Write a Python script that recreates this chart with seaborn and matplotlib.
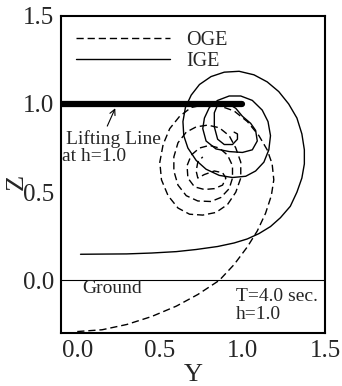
import matplotlib
matplotlib.use("Agg")
import matplotlib.pyplot as plt
from matplotlib.ticker import MultipleLocator
import seaborn as sns
import pandas as pd

# ---- data ----
oge_y = [0.0, 0.15, 0.30, 0.45, 0.60, 0.73, 0.86, 0.95, 1.03, 1.09, 1.14, 1.175, 1.19, 1.18,
         1.15, 1.10, 1.03, 0.95, 0.86, 0.77, 0.69, 0.62, 0.56, 0.52, 0.50, 0.51, 0.55, 0.61,
         0.68, 0.76, 0.84, 0.91, 0.96, 0.99, 0.99, 0.96, 0.92, 0.86, 0.79, 0.72, 0.66, 0.61,
         0.585, 0.585, 0.61, 0.66, 0.73, 0.81, 0.87, 0.92, 0.94, 0.94, 0.91, 0.86, 0.80, 0.74,
         0.69, 0.665, 0.67, 0.71, 0.77, 0.83, 0.88, 0.90, 0.88, 0.83, 0.77, 0.73, 0.72, 0.73, 0.76]
oge_z = [-0.29, -0.28, -0.25, -0.205, -0.146, -0.08, 0.0, 0.09, 0.19, 0.28, 0.38, 0.48, 0.57, 0.66,
         0.74, 0.82, 0.90, 0.96, 0.99, 0.995, 0.98, 0.93, 0.86, 0.77, 0.67, 0.57, 0.48, 0.41,
         0.375, 0.37, 0.385, 0.43, 0.50, 0.58, 0.67, 0.75, 0.82, 0.865, 0.88, 0.87, 0.84, 0.78,
         0.70, 0.62, 0.54, 0.48, 0.45, 0.447, 0.47, 0.52, 0.58, 0.65, 0.71, 0.75, 0.765, 0.75,
         0.71, 0.65, 0.58, 0.53, 0.515, 0.52, 0.54, 0.58, 0.61, 0.62, 0.60, 0.58, 0.62, 0.67, 0.70]

ige_y = [0.02, 0.15, 0.30, 0.45, 0.60, 0.72, 0.85, 0.95, 1.03, 1.10, 1.17, 1.23, 1.29, 1.33,
         1.36, 1.375, 1.375, 1.36, 1.33, 1.28, 1.22, 1.15, 1.07, 0.98, 0.89, 0.81, 0.74, 0.69,
         0.655, 0.64, 0.645, 0.67, 0.72, 0.78, 0.86, 0.94, 1.02, 1.08, 1.13, 1.16, 1.17, 1.155,
         1.12, 1.06, 0.99, 0.92, 0.85, 0.80, 0.77, 0.76, 0.78, 0.84, 0.92, 1.00, 1.06, 1.09,
         1.08, 1.05, 1.00, 0.96, 0.90, 0.85, 0.83, 0.83, 0.85, 0.89, 0.94, 0.97, 0.97, 0.95]
ige_z = [0.148, 0.149, 0.150, 0.155, 0.163, 0.175, 0.192, 0.212, 0.235, 0.265, 0.305, 0.355, 0.42, 0.50,
         0.58, 0.66, 0.74, 0.83, 0.92, 1.00, 1.07, 1.125, 1.165, 1.185, 1.18, 1.155, 1.11, 1.05,
         0.98, 0.90, 0.82, 0.75, 0.68, 0.63, 0.595, 0.583, 0.59, 0.62, 0.67, 0.74, 0.82, 0.90,
         0.965, 1.02, 1.045, 1.045, 1.02, 0.98, 0.92, 0.86, 0.79, 0.745, 0.73, 0.725, 0.74, 0.79,
         0.85, 0.89, 0.93, 0.975, 1.01, 0.995, 0.95, 0.87, 0.80, 0.77, 0.77, 0.80, 0.83, 0.84]

lift_y = [-0.1, 1.0]
lift_z = [1.0, 1.0]

xticks = [0.0, 0.5, 1.0, 1.5]
yticks = [0.0, 0.5, 1.0, 1.5]

# ---- style ----
sns.set_style("white")
plt.rcParams['font.family'] = ['Liberation Serif', 'DejaVu Serif']

fig = plt.figure(figsize=(3.42, 3.86), dpi=100)
ax = fig.add_axes([0.1775, 0.1365, 0.7728, 0.8228])

oge = pd.DataFrame({"Y": oge_y, "Z": oge_z})
ige = pd.DataFrame({"Y": ige_y, "Z": ige_z})
lift = pd.DataFrame({"Y": lift_y, "Z": lift_z})

sns.lineplot(data=oge, x="Y", y="Z", sort=False, estimator=None, ax=ax, color="black",
             lw=1.0, linestyle=(0, (5.2, 2.8)), label="OGE")
sns.lineplot(data=ige, x="Y", y="Z", sort=False, estimator=None, ax=ax, color="black",
             lw=1.0, label="IGE")
sns.lineplot(data=lift, x="Y", y="Z", sort=False, estimator=None, ax=ax, color="black",
             lw=4.5, solid_capstyle="round", legend=False)
ax.axhline(0.0, color="black", lw=0.8)

ax.set_xlim(-0.1, 1.5)
ax.set_ylim(-0.3, 1.5)
ax.set_xticks(xticks)
ax.set_yticks(yticks)
ax.set_xticklabels([f"{v:.1f}" for v in xticks])
ax.set_yticklabels([f"{v:.1f}" for v in yticks])
ax.xaxis.set_minor_locator(MultipleLocator(0.1))
ax.yaxis.set_minor_locator(MultipleLocator(0.1))
ax.tick_params(which="both", direction="in", top=False, right=False, color="black",
               width=1.0)
ax.tick_params(which="major", length=7, labelsize=18, pad=5)
ax.tick_params(which="minor", length=4)
for s in ax.spines.values():
    s.set_linewidth(1.5)
    s.set_color("black")

ax.set_xlabel("Y", fontsize=19)
ax.set_ylabel("Z", fontsize=19)
ax.xaxis.set_label_coords(0.5, -0.097)
ax.yaxis.set_label_coords(-0.125, 0.476)

leg = ax.legend(loc="upper left", frameon=False, fontsize=14.5, handlelength=4.7,
                handletextpad=0.8, labelspacing=0.08, borderaxespad=0.35, borderpad=0.4)

ax.annotate("", xy=(0.237, 0.99), xytext=(0.175, 0.86),
            arrowprops=dict(arrowstyle="->", lw=0.8, color="black"))
ax.text(-0.068, 0.80, "Lifting Line", fontsize=14, ha="left", va="center")
ax.text(-0.09, 0.70, "at h=1.0", fontsize=14, ha="left", va="center")
ax.text(0.033, -0.048, "Ground", fontsize=14, ha="left", va="center")
ax.text(0.96, -0.091, "T=4.0 sec.", fontsize=14, ha="left", va="center")
ax.text(0.96, -0.195, "h=1.0", fontsize=14, ha="left", va="center")

fig.savefig("out.png", dpi=100)
